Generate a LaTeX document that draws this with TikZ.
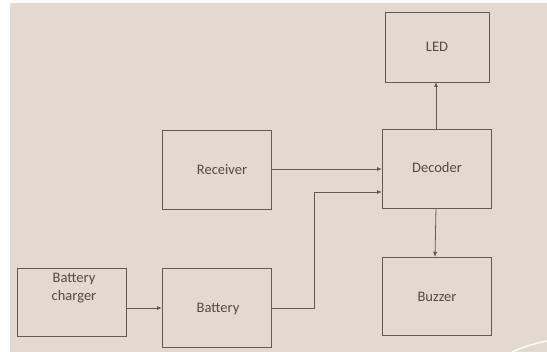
\documentclass[tikz,border=0pt]{standalone}
\usepackage{fontspec}
\setmainfont{Carlito}
\usetikzlibrary{arrows.meta}
\definecolor{bg}{HTML}{E3D9CF}
\definecolor{ln}{HTML}{625A57}
\definecolor{tx}{HTML}{544A45}
\begin{document}
\begin{tikzpicture}[x=1pt,y=-1pt,
  blk/.style={draw=ln,line width=0.95pt},
  lbl/.style={text=tx,font=\fontsize{14.5}{17.5}\selectfont,inner sep=0pt},
  conn/.style={draw=ln,line width=0.8pt,-{Latex[length=5pt,width=4pt]}}]
\useasboundingbox (0,0) rectangle (547,352);
\fill[white] (0,0) rectangle (547,352);
\fill[bg] (10,3) rectangle (547,352);
\draw[white!92!bg,line width=1.5pt] (512,352) .. controls (525,346) and (537,343) .. (547,341);
% boxes
\draw[blk] (385,12) rectangle (489,82);
\node[lbl] (led) at (437,47) {LED};
\coordinate (ledb) at (436,82);
\draw[blk] (162,130) rectangle (271,209);
\node[lbl] (rec) at (222,170) {Receiver};
\draw[blk] (382,129) rectangle (491,208);
\node[lbl] (dec) at (437,168) {Decoder};
\draw[blk] (382,257) rectangle (491,335);
\node[lbl] (buz) at (437,297) {Buzzer};
\draw[blk] (17,268) rectangle (126,336);
\node[lbl,align=center] (chg) at (74,288) {Battery\\charger};
\draw[blk] (162,268) rectangle (271,347);
\node[lbl] (bat) at (218,309) {Battery};
% connector endpoints
\coordinate (recR) at (271,169);
\coordinate (decL1) at (382,169);
\coordinate (decL2) at (382,192);
\coordinate (decT) at (436,129);
\coordinate (decB) at (436,208);
\coordinate (buzT) at (435,257);
\coordinate (chgR) at (126,308);
\coordinate (batL) at (162,308);
\coordinate (batR) at (271,308);
\coordinate (bend) at (314,308);
% connectors
\draw[conn] (recR) -- (decL1);
\draw[conn] (batR) -- (bend) |- (decL2);
\draw[conn] (decT) -- (ledb);
\draw[conn] (decB) -- (buzT);
\draw[conn] (chgR) -- (batL);
\end{tikzpicture}
\end{document}
